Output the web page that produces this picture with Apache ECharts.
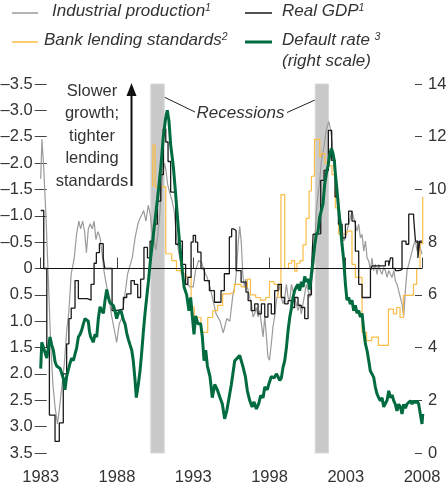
<!DOCTYPE html>
<html>
<head>
<meta charset="utf-8">
<script src="https://cdn.jsdelivr.net/npm/echarts@6/dist/echarts.min.js"></script>
<style>
html,body{margin:0;padding:0;background:#fff;}
#c{width:448px;height:489px;}
</style>
</head>
<body>
<div id="c"></div>
<script>
// ---- data (year, value) ----
const recessions = [[1990.22, 1991.1], [2001.0, 2001.87]];

// Industrial production (left axis, inverted)
const ipData = [
[1983.0,-1.7],[1983.08,-2.45],[1983.2,-1.9],[1983.35,-0.96],[1983.5,0.2],[1983.65,1.4],[1983.8,2.2],[1983.95,2.65],[1984.1,2.95],[1984.25,2.6],[1984.4,2.2],[1984.55,1.8],[1984.7,1.2],[1984.85,0.8],[1985.0,0.1],[1985.2,-0.2],[1985.35,-0.65],[1985.5,-0.9],[1985.62,-0.75],[1985.75,-0.9],[1985.88,-0.7],[1986.0,-0.3],[1986.12,-0.75],[1986.25,-0.85],[1986.38,-0.75],[1986.5,-0.9],[1986.62,-0.55],[1986.75,-0.7],[1986.88,-0.6],[1987.0,-0.35],[1987.15,0.05],[1987.3,0.3],[1987.5,0.6],[1987.65,0.9],[1987.85,1.2],[1987.98,1.4],[1988.15,1.05],[1988.3,0.95],[1988.5,0.55],[1988.7,0.1],[1988.85,-0.05],[1989.0,-0.2],[1989.2,-0.6],[1989.38,-0.85],[1989.5,-0.95],
[1989.6,-1.0],[1989.75,-1.1],[1989.9,-0.9],[1990.05,-1.2],[1990.2,-1.0],[1990.32,-0.6],[1990.45,-0.5],[1990.55,-0.35],[1990.68,-0.65],[1990.8,-1.0],[1990.9,-1.45],[1991.0,-1.8],[1991.12,-2.0],[1991.22,-1.85],[1991.32,-1.6],[1991.45,-1.45],[1991.6,-1.3],[1991.75,-1.1],[1991.9,-0.6],[1992.05,-0.3],[1992.2,-0.1],[1992.4,0.29],[1992.6,0.3],[1992.8,0.35],[1993.0,0.35],[1993.15,0.04],[1993.35,-0.15],[1993.55,-0.12],[1993.7,0.04],[1993.9,0.16],[1994.1,0.35],[1994.3,0.61],[1994.5,0.86],[1994.75,0.99],[1994.97,1.22],[1995.2,0.95],[1995.4,1.0],[1995.6,0.5],[1995.75,0.3],[1995.85,0.0],[1995.95,-0.5],[1996.05,-0.8],[1996.15,-0.5],[1996.25,0.1],[1996.35,0.35],[1996.45,0.2],
[1996.6,0.42],[1996.7,0.55],[1996.82,0.67],[1996.92,0.92],[1997.03,0.86],[1997.14,0.74],[1997.25,0.92],[1997.36,0.8],[1997.47,1.05],[1997.58,1.3],[1997.69,0.92],[1997.8,1.3],[1997.9,1.68],[1998.0,1.74],[1998.12,1.43],[1998.23,1.1],[1998.34,0.92],[1998.45,0.61],[1998.56,0.48],[1998.67,0.3],[1998.78,0.55],[1998.89,0.67],[1999.0,0.55],[1999.11,0.3],[1999.22,0.55],[1999.33,0.61],[1999.44,0.3],[1999.54,0.42],[1999.65,0.42],[1999.76,0.67],[1999.87,0.8],[1999.98,0.67],[2000.09,0.86],[2000.2,0.67],[2000.31,0.48],[2000.42,0.3],[2000.53,0.42],[2000.64,0.55],[2000.75,0.3],[2000.86,0.04],[2000.97,-0.46],[2001.07,-1.09],[2001.18,-1.4],[2001.29,-1.65],[2001.4,-2.03],[2001.51,-2.22],[2001.6,-2.35],[2001.7,-2.6],[2001.8,-2.7],[2001.88,-2.79],[2001.99,-2.66],[2002.1,-2.41],[2002.2,-2.03],[2002.32,-1.72],[2002.43,-1.47],[2002.54,-1.22],[2002.65,-0.96],[2002.76,-0.77],[2002.87,-0.52],[2002.98,-0.58],[2003.08,-0.71],[2003.19,-0.84],[2003.3,-0.96],[2003.41,-1.09],[2003.52,-0.96],[2003.63,-0.84],[2003.74,-0.71],[2003.85,-0.84],[2003.96,-0.58],[2004.07,-0.65],[2004.18,-0.33],[2004.29,-0.52],[2004.4,-0.2],[2004.51,-0.14],[2004.62,0.04],[2004.72,-0.2],[2004.83,0.04],[2004.94,-0.08],[2005.05,0.11],[2005.16,-0.08],[2005.27,0.04],[2005.38,0.11],[2005.49,-0.02],[2005.6,0.04],[2005.71,0.17],[2005.82,0.04],[2005.93,0.11],[2006.04,0.17],[2006.15,0.04],[2006.25,0.23],[2006.36,0.3],[2006.47,0.42],[2006.58,0.55],[2006.69,0.67],[2006.8,0.92],[2006.91,0.42],[2007.02,0.04],[2007.13,-0.08],[2007.24,-0.2],[2007.35,-0.33],[2007.46,-0.46],[2007.57,-0.52],[2007.68,-0.33],[2007.78,-0.52],[2007.89,-0.39],[2008.0,-0.27]
];

// Real GDP (left axis, inverted), stepped
const gdpData = [
[1983.0,-1.1],[1983.2,0.0],[1983.4,1.5],[1983.57,2.78],[1983.94,3.28],[1984.22,2.93],[1984.48,2.0],[1984.7,1.43],[1984.85,0.95],[1985.0,0.75],[1985.25,0.23],[1985.47,0.57],[1986.06,0.6],[1986.3,0.3],[1986.5,-0.1],[1986.65,-0.3],[1986.85,-0.47],[1987.1,-0.2],[1987.2,0.0],[1987.68,0.8],[1987.94,0.77],[1988.42,0.55],[1988.64,0.48],[1988.92,0.23],[1989.14,0.3],[1989.36,0.55],[1989.55,0.2],[1989.77,-0.4],[1990.0,-0.2],[1990.17,-0.52],[1990.4,-0.84],[1990.65,-1.28],[1990.87,-1.78],[1991.04,-2.65],[1991.2,-2.4],[1991.35,-2.03],[1991.52,-1.45],[1991.85,-0.46],[1992.07,-0.52],[1992.29,-0.08],[1992.5,0.3],[1992.65,0.17],[1992.86,-0.5],[1993.0,-0.63],[1993.15,-0.5],[1993.29,-0.31],[1993.51,0.0],[1993.73,0.23],[1994.06,0.42],[1994.39,0.64],[1994.82,0.42],[1995.04,0.1],[1995.37,-0.6],[1995.52,-0.75],[1995.66,-0.72],[1995.81,0.04],[1996.14,0.26],[1996.46,0.45],[1996.6,0.61],[1996.8,0.8],[1997.03,0.67],[1997.25,0.86],[1997.47,0.67],[1997.69,0.92],[1997.9,0.67],[1998.12,0.86],[1998.34,0.42],[1998.56,0.3],[1998.78,0.55],[1999.0,0.67],[1999.22,0.61],[1999.44,0.74],[1999.65,0.55],[1999.87,0.7],[2000.09,0.74],[2000.31,0.95],[2000.53,0.5],[2000.75,0.04],[2000.86,-0.65],[2001.0,-0.66],[2001.36,-1.67],[2001.58,-1.86],[2001.86,-2.62],[2002.08,-2.05],[2002.3,-1.36],[2002.52,-0.84],[2002.76,-0.58],[2002.98,-0.84],[2003.19,-1.09],[2003.41,-0.9],[2003.63,-0.33],[2003.85,0.3],[2004.07,0.55],[2004.62,0.04],[2004.72,-0.05],[2005.3,-0.05],[2005.6,-0.14],[2005.82,-0.05],[2005.93,-0.2],[2006.08,0.0],[2006.25,0.04],[2006.47,0.02],[2006.69,-0.52],[2006.95,-0.46],[2007.13,-1.03],[2007.45,-0.97],[2007.57,-0.52],[2007.73,-0.2],[2007.85,-0.52],[2008.0,-0.52]
];

// Bank lending standards (left axis, inverted), stepped
const lendingData = [
[1990.34,-1.55],[1990.36,-2.34],[1990.5,-1.55],[1991.2,-0.28],[1991.59,-0.15],[1991.9,0.04],[1992.2,0.1],[1992.5,0.16],[1992.86,0.73],[1993.07,0.93],[1993.51,1.21],[1993.95,0.93],[1994.28,0.8],[1994.6,0.7],[1994.93,0.48],[1995.37,0.45],[1995.7,0.3],[1996.14,0.35],[1996.55,0.2],[1996.75,0.5],[1997.1,0.55],[1997.4,0.6],[1997.75,0.55],[1998.0,0.25],[1998.3,0.3],[1998.55,0.55],[1998.75,-1.4],[1999.0,0.0],[1999.25,-0.1],[1999.45,-0.15],[1999.65,0.05],[1999.8,-0.1],[2000.0,-0.15],[2000.2,-0.45],[2000.4,-0.95],[2000.6,-1.47],[2000.75,-1.75],[2000.95,-2.45],[2001.3,-2.1],[2001.42,-2.18],[2001.64,-2.0],[2001.86,-1.95],[2002.1,-1.78],[2002.32,-1.15],[2002.54,-0.65],[2003.08,-0.71],[2003.41,-0.08],[2003.63,0.17],[2004.07,1.21],[2004.37,1.37],[2004.7,1.3],[2005.14,1.46],[2005.8,0.77],[2006.12,0.86],[2006.34,0.74],[2006.56,0.93],[2006.78,0.51],[2007.44,0.3],[2007.65,0.0],[2007.87,-0.47],[2008.05,-1.36]
];

// Default rate (right axis)
const defaultData = [
[1983.0,3.2],[1983.07,4.2],[1983.18,4.0],[1983.28,4.0],[1983.4,3.6],[1983.5,3.6],[1983.61,4.4],[1983.72,4.1],[1983.83,3.9],[1983.94,3.46],[1984.05,3.3],[1984.15,3.3],[1984.28,3.2],[1984.38,3.2],[1984.5,2.8],[1984.59,2.4],[1984.7,2.9],[1984.81,3.15],[1984.92,3.4],[1985.03,3.6],[1985.14,3.5],[1985.25,3.5],[1985.36,4.0],[1985.47,4.4],[1985.58,4.5],[1985.69,4.67],[1985.8,4.9],[1985.9,5.1],[1986.0,5.05],[1986.12,5.0],[1986.2,4.6],[1986.28,4.4],[1986.37,4.3],[1986.45,4.2],[1986.56,4.5],[1986.67,4.4],[1986.78,5.1],[1986.89,5.55],[1987.0,5.4],[1987.11,5.3],[1987.22,5.8],[1987.33,6.2],[1987.44,5.9],[1987.54,5.7],[1987.65,5.65],[1987.76,5.6],[1987.87,5.4],[1987.98,5.1],[1988.09,5.3],[1988.2,5.4],[1988.31,5.3],[1988.42,5.05],[1988.53,4.9],[1988.64,4.55],[1988.75,4.3],[1988.86,4.3],[1988.97,3.9],[1989.07,3.5],[1989.18,2.8],[1989.27,2.1],[1989.4,2.6],[1989.51,3.1],[1989.62,3.8],[1989.73,4.6],[1989.84,5.3],[1989.95,5.9],[1990.06,6.5],[1990.21,7.4],[1990.43,8.5],[1990.65,9.6],[1990.87,10.8],[1991.04,12.0],[1991.19,12.7],[1991.3,13.0],[1991.41,12.6],[1991.52,11.7],[1991.7,10.85],[1991.85,9.8],[1992.0,8.7],[1992.13,7.8],[1992.29,6.9],[1992.4,6.3],[1992.57,6.0],[1992.72,5.4],[1992.83,5.9],[1992.94,5.2],[1993.05,4.5],[1993.16,5.2],[1993.31,4.9],[1993.49,4.9],[1993.6,4.4],[1993.71,3.5],[1993.82,3.9],[1993.93,3.3],[1994.1,2.9],[1994.25,2.1],[1994.41,2.6],[1994.58,2.4],[1994.76,2.1],[1994.91,1.86],[1995.06,1.3],[1995.2,1.6],[1995.35,2.1],[1995.5,2.6],[1995.72,3.5],[1995.89,3.6],[1996.05,3.7],[1996.16,3.7],[1996.27,3.26],[1996.42,2.9],[1996.55,2.36],[1996.7,2.0],[1996.86,1.75],[1996.99,1.94],[1997.14,1.67],[1997.29,1.86],[1997.42,2.18],[1997.58,2.1],[1997.69,2.5],[1997.86,2.4],[1997.95,2.6],[1998.12,2.9],[1998.3,2.85],[1998.45,3.0],[1998.56,2.9],[1998.67,2.75],[1998.78,2.85],[1998.89,3.26],[1999.0,3.5],[1999.11,4.0],[1999.22,4.65],[1999.33,5.15],[1999.44,5.5],[1999.54,5.9],[1999.65,6.16],[1999.76,6.3],[1999.87,6.4],[1999.98,6.16],[2000.09,6.5],[2000.2,6.3],[2000.31,6.7],[2000.42,6.5],[2000.53,6.6],[2000.64,6.2],[2000.75,6.8],[2000.86,7.3],[2000.97,7.9],[2001.07,8.3],[2001.18,8.4],[2001.29,8.95],[2001.4,9.2],[2001.51,9.45],[2001.62,10.2],[2001.73,10.6],[2001.84,10.9],[2001.95,11.3],[2002.05,11.55],[2002.15,11.4],[2002.25,11.1],[2002.32,10.6],[2002.43,9.95],[2002.54,9.2],[2002.65,8.6],[2002.76,7.9],[2002.87,7.3],[2002.98,6.4],[2003.08,5.8],[2003.19,5.9],[2003.3,5.65],[2003.41,5.8],[2003.52,5.4],[2003.63,5.6],[2003.74,5.3],[2003.85,5.4],[2003.96,5.16],[2004.07,5.3],[2004.18,4.64],[2004.29,4.14],[2004.4,3.88],[2004.51,3.5],[2004.61,3.12],[2004.72,3.0],[2004.83,2.88],[2004.94,2.5],[2005.05,2.24],[2005.16,2.1],[2005.27,1.98],[2005.38,2.1],[2005.49,1.75],[2005.6,1.7],[2005.71,2.0],[2005.82,2.36],[2005.93,2.1],[2006.04,2.2],[2006.15,1.98],[2006.25,1.85],[2006.36,1.6],[2006.47,1.85],[2006.58,1.75],[2006.69,1.48],[2006.8,1.85],[2006.91,1.7],[2007.02,1.86],[2007.13,1.86],[2007.24,1.98],[2007.35,1.86],[2007.46,1.98],[2007.57,1.9],[2007.68,1.98],[2007.78,1.86],[2007.89,1.48],[2008.0,1.1],[2008.05,1.48]
];

const xMin = 1983, xMax = 2008, xStep = 5;
const leftMin = -3.5, leftMax = 3.5, leftStep = 0.5;
const rightMin = 0, rightMax = 14, rightStep = 2;

// ---- chart ----
const FONT = '"Liberation Sans", Arial, sans-serif';
const TXT = '#333333';
const chart = echarts.init(document.getElementById('c'), null, {renderer: 'canvas'});

function leftFmt(v) {
  if (Math.abs(v) < 1e-9) return '0';
  return (v < 0 ? '\u2013' : '') + Math.abs(v).toFixed(1);
}

const LEG = 17, SUP = 10.5;
const legRich = {
  a: {fontSize: LEG, fontStyle: 'italic', fontFamily: FONT, fill: TXT},
  s: {fontSize: SUP, fontStyle: 'italic', fontFamily: FONT, fill: TXT, verticalAlign: 'top'}
};

const option = {
  animation: false,
  backgroundColor: '#ffffff',
  grid: {left: 40.7, right: 26, top: 84, bottom: 36, containLabel: false, outerBoundsMode: 'none'},
  xAxis: {
    type: 'value', min: xMin, max: xMax, interval: xStep,
    axisLine: {show: true, lineStyle: {color: '#444', width: 1}},
    axisTick: {show: true, inside: true, length: 11, lineStyle: {color: '#444', width: 1}},
    axisLabel: {formatter: v => String(v), fontSize: 16.5, color: TXT, fontFamily: FONT, margin: 16},
    splitLine: {show: false}
  },
  yAxis: [
    {
      type: 'value', position: 'left', inverse: true,
      min: leftMin, max: leftMax, interval: leftStep,
      axisLine: {show: false}, axisTick: {show: false},
      axisLabel: {formatter: leftFmt, fontSize: 16.5, color: TXT, fontFamily: FONT, margin: 8},
      splitLine: {show: false}
    },
    {
      type: 'value', position: 'right',
      min: rightMin, max: rightMax, interval: rightStep,
      axisLine: {show: false},
      axisTick: {show: true, inside: true, length: 7, lineStyle: {color: '#444'}},
      axisLabel: {fontSize: 16.5, color: TXT, fontFamily: FONT, margin: 6},
      splitLine: {show: false}
    },
    {
      type: 'value', position: 'left', offset: -6, inverse: true,
      min: leftMin, max: leftMax, interval: leftStep,
      axisLine: {show: false},
      axisTick: {show: true, length: 12, lineStyle: {color: '#444'}},
      axisLabel: {show: false},
      splitLine: {show: false}
    }
  ],
  series: [
    {
      name: 'bands', type: 'line', yAxisIndex: 0, z: 1,
      data: [[xMin, 0]], showSymbol: false, lineStyle: {opacity: 0}, silent: true,
      markArea: {
        silent: true,
        itemStyle: {color: '#c9c9c9', borderColor: '#d8d8d8', borderWidth: 1},
        data: recessions.map(r => [{xAxis: r[0]}, {xAxis: r[1]}])
      }
    },
    {
      name: 'Industrial production', type: 'line', yAxisIndex: 0, z: 3,
      data: ipData, showSymbol: false, smooth: false,
      lineStyle: {color: '#9b9b9b', width: 1.2}
    },
    {
      name: 'Bank lending standards', type: 'line', yAxisIndex: 0, z: 4,
      data: lendingData, showSymbol: false, step: 'end', clip: false,
      lineStyle: {color: '#fbbd45', width: 1.2}
    },
    {
      name: 'Real GDP', type: 'line', yAxisIndex: 0, z: 5,
      data: gdpData, showSymbol: false, step: 'end',
      lineStyle: {color: '#1a1a1a', width: 1.3},
      markLine: {
        silent: true, symbol: 'none', label: {show: false},
        lineStyle: {color: '#111', width: 1, type: 'solid'},
        data: [{yAxis: 0}]
      }
    },
    {
      name: 'Default rate', type: 'line', yAxisIndex: 1, z: 6,
      data: defaultData, showSymbol: false, clip: false,
      lineStyle: {color: '#006b3f', width: 3}
    }
  ],
  graphic: [
    // legend
    {type: 'line', shape: {x1: 12, y1: 13, x2: 38, y2: 13}, style: {stroke: '#9b9b9b', lineWidth: 1.5}},
    {type: 'text', left: 52, top: 3, style: {text: '{a|Industrial production}{s|1}', rich: legRich}},
    {type: 'line', shape: {x1: 245, y1: 13, x2: 272, y2: 13}, style: {stroke: '#1a1a1a', lineWidth: 1.5}},
    {type: 'text', left: 282, top: 3, style: {text: '{a|Real GDP}{s|1}', rich: legRich}},
    {type: 'line', shape: {x1: 12, y1: 42, x2: 38, y2: 42}, style: {stroke: '#fbbd45', lineWidth: 1.5}},
    {type: 'text', left: 44, top: 32, style: {text: '{a|Bank lending standards}{s|2}', rich: legRich}},
    {type: 'line', shape: {x1: 245, y1: 42, x2: 272, y2: 42}, style: {stroke: '#006b3f', lineWidth: 3}},
    {type: 'text', left: 282, top: 32, style: {text: '{a|Default rate }{s|3}', rich: legRich}},
    {type: 'text', left: 282, top: 53, style: {text: '(right scale)', fontSize: LEG, fontStyle: 'italic', fontFamily: FONT, fill: TXT}},
    // annotation: slower growth
    {type: 'text', x: 92, y: 136, style: {text: 'Slower\ngrowth;\ntighter\nlending\nstandards', fontSize: 16.5, lineHeight: 22.5, fontFamily: FONT, fill: TXT, align: 'center', verticalAlign: 'middle'}},
    {type: 'line', shape: {x1: 131.5, y1: 94, x2: 131.5, y2: 186}, style: {stroke: '#111', lineWidth: 2}},
    {type: 'polygon', shape: {points: [[131.5, 83], [126.5, 96], [136.5, 96]]}, style: {fill: '#111'}},
    // recessions label
    {type: 'text', x: 240.5, y: 113, style: {text: 'Recessions', fontSize: 17, fontStyle: 'italic', fontFamily: FONT, fill: TXT, align: 'center', verticalAlign: 'middle'}},
    {type: 'line', shape: {x1: 163, y1: 96.5, x2: 195, y2: 112}, style: {stroke: '#222', lineWidth: 1}},
    {type: 'line', shape: {x1: 287, y1: 112.5, x2: 315, y2: 100}, style: {stroke: '#222', lineWidth: 1}}
  ]
};
chart.setOption(option);
</script>
</body>
</html>
